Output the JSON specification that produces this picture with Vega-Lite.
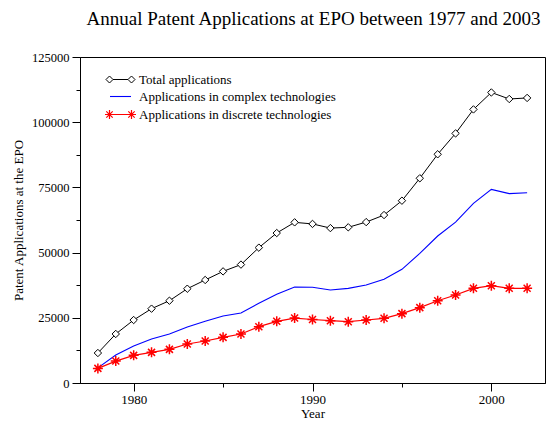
{
  "$schema": "https://vega.github.io/schema/vega-lite/v6.json",
  "autosize": "none",
  "width": 465,
  "height": 326,
  "padding": {"left": 80, "top": 57, "right": 2, "bottom": 41},
  "background": "white",
  "config": {
    "view": {"stroke": "black", "strokeWidth": 1},
    "font": "Liberation Serif"
  },
  "title": {
    "text": "Annual Patent Applications at EPO between 1977 and 2003",
    "font": "Liberation Serif",
    "fontSize": 19,
    "fontWeight": "normal",
    "color": "black",
    "anchor": "middle",
    "dx": 1,
    "offset": 22
  },
  "data": {
    "values": [
      {"year": 1978, "series": "Total applications", "value": 11500},
      {"year": 1979, "series": "Total applications", "value": 18800},
      {"year": 1980, "series": "Total applications", "value": 24150},
      {"year": 1981, "series": "Total applications", "value": 28500},
      {"year": 1982, "series": "Total applications", "value": 31550},
      {"year": 1983, "series": "Total applications", "value": 36150},
      {"year": 1984, "series": "Total applications", "value": 39500},
      {"year": 1985, "series": "Total applications", "value": 42800},
      {"year": 1986, "series": "Total applications", "value": 45400},
      {"year": 1987, "series": "Total applications", "value": 51900},
      {"year": 1988, "series": "Total applications", "value": 57500},
      {"year": 1989, "series": "Total applications", "value": 61600},
      {"year": 1990, "series": "Total applications", "value": 61000},
      {"year": 1991, "series": "Total applications", "value": 59400},
      {"year": 1992, "series": "Total applications", "value": 59700},
      {"year": 1993, "series": "Total applications", "value": 61700},
      {"year": 1994, "series": "Total applications", "value": 64400},
      {"year": 1995, "series": "Total applications", "value": 69900},
      {"year": 1996, "series": "Total applications", "value": 78500},
      {"year": 1997, "series": "Total applications", "value": 87700},
      {"year": 1998, "series": "Total applications", "value": 95700},
      {"year": 1999, "series": "Total applications", "value": 104900},
      {"year": 2000, "series": "Total applications", "value": 111400},
      {"year": 2001, "series": "Total applications", "value": 108900},
      {"year": 2002, "series": "Total applications", "value": 109300},
      {"year": 1978, "series": "Applications in complex technologies", "value": 5800},
      {"year": 1979, "series": "Applications in complex technologies", "value": 10700},
      {"year": 1980, "series": "Applications in complex technologies", "value": 14200},
      {"year": 1981, "series": "Applications in complex technologies", "value": 16900},
      {"year": 1982, "series": "Applications in complex technologies", "value": 18800},
      {"year": 1983, "series": "Applications in complex technologies", "value": 21500},
      {"year": 1984, "series": "Applications in complex technologies", "value": 23650},
      {"year": 1985, "series": "Applications in complex technologies", "value": 25700},
      {"year": 1986, "series": "Applications in complex technologies", "value": 26850},
      {"year": 1987, "series": "Applications in complex technologies", "value": 30550},
      {"year": 1988, "series": "Applications in complex technologies", "value": 34000},
      {"year": 1989, "series": "Applications in complex technologies", "value": 36800},
      {"year": 1990, "series": "Applications in complex technologies", "value": 36700},
      {"year": 1991, "series": "Applications in complex technologies", "value": 35650},
      {"year": 1992, "series": "Applications in complex technologies", "value": 36300},
      {"year": 1993, "series": "Applications in complex technologies", "value": 37600},
      {"year": 1994, "series": "Applications in complex technologies", "value": 39750},
      {"year": 1995, "series": "Applications in complex technologies", "value": 43600},
      {"year": 1996, "series": "Applications in complex technologies", "value": 49700},
      {"year": 1997, "series": "Applications in complex technologies", "value": 56350},
      {"year": 1998, "series": "Applications in complex technologies", "value": 61700},
      {"year": 1999, "series": "Applications in complex technologies", "value": 68900},
      {"year": 2000, "series": "Applications in complex technologies", "value": 74250},
      {"year": 2001, "series": "Applications in complex technologies", "value": 72600},
      {"year": 2002, "series": "Applications in complex technologies", "value": 72950},
      {"year": 1978, "series": "Applications in discrete technologies", "value": 5600},
      {"year": 1979, "series": "Applications in discrete technologies", "value": 8400},
      {"year": 1980, "series": "Applications in discrete technologies", "value": 10600},
      {"year": 1981, "series": "Applications in discrete technologies", "value": 11750},
      {"year": 1982, "series": "Applications in discrete technologies", "value": 12900},
      {"year": 1983, "series": "Applications in discrete technologies", "value": 14950},
      {"year": 1984, "series": "Applications in discrete technologies", "value": 16100},
      {"year": 1985, "series": "Applications in discrete technologies", "value": 17500},
      {"year": 1986, "series": "Applications in discrete technologies", "value": 18800},
      {"year": 1987, "series": "Applications in discrete technologies", "value": 21600},
      {"year": 1988, "series": "Applications in discrete technologies", "value": 23650},
      {"year": 1989, "series": "Applications in discrete technologies", "value": 24900},
      {"year": 1990, "series": "Applications in discrete technologies", "value": 24350},
      {"year": 1991, "series": "Applications in discrete technologies", "value": 23900},
      {"year": 1992, "series": "Applications in discrete technologies", "value": 23500},
      {"year": 1993, "series": "Applications in discrete technologies", "value": 24150},
      {"year": 1994, "series": "Applications in discrete technologies", "value": 24800},
      {"year": 1995, "series": "Applications in discrete technologies", "value": 26600},
      {"year": 1996, "series": "Applications in discrete technologies", "value": 28900},
      {"year": 1997, "series": "Applications in discrete technologies", "value": 31550},
      {"year": 1998, "series": "Applications in discrete technologies", "value": 33750},
      {"year": 1999, "series": "Applications in discrete technologies", "value": 36300},
      {"year": 2000, "series": "Applications in discrete technologies", "value": 37300},
      {"year": 2001, "series": "Applications in discrete technologies", "value": 36300},
      {"year": 2002, "series": "Applications in discrete technologies", "value": 36300}
    ]
  },
  "encoding": {
    "x": {
      "field": "year",
      "type": "quantitative",
      "scale": {"domain": [1977, 2003], "nice": false, "zero": false},
      "axis": {
        "title": "Year",
        "values": [1980, 1985, 1990, 1995, 2000],
        "format": "d",
        "labelExpr": "datum.value % 10 === 0 ? datum.label : ''",
        "tickSize": {"condition": {"test": "datum.value % 10 === 0", "value": 8}, "value": 4},
        "grid": false,
        "domainColor": "black",
        "tickColor": "black",
        "labelColor": "black",
        "titleColor": "black",
        "labelFont": "Liberation Serif",
        "labelFontSize": 13,
        "titleFont": "Liberation Serif",
        "titleFontSize": 13,
        "titleFontWeight": "normal",
        "labelPadding": 2,
        "titlePadding": 1,
        "labelOverlap": false
      }
    },
    "y": {
      "field": "value",
      "type": "quantitative",
      "scale": {"domain": [0, 125000], "nice": false},
      "axis": {
        "title": "Patent Applications at the EPO",
        "values": [0, 12500, 25000, 37500, 50000, 62500, 75000, 87500, 100000, 112500, 125000],
        "format": "d",
        "labelExpr": "datum.value % 25000 === 0 ? datum.label : ''",
        "tickSize": {"condition": {"test": "datum.value % 25000 === 0", "value": 8}, "value": 4},
        "grid": false,
        "domainColor": "black",
        "tickColor": "black",
        "labelColor": "black",
        "titleColor": "black",
        "labelFont": "Liberation Serif",
        "labelFontSize": 12.5,
        "titleFont": "Liberation Serif",
        "titleFontSize": 13,
        "titleFontWeight": "normal",
        "labelPadding": 3,
        "titlePadding": 6,
        "labelOverlap": false
      }
    }
  },
  "layer": [
    {
      "mark": {"type": "line"},
      "encoding": {
        "color": {
          "field": "series",
          "type": "nominal",
          "scale": {
            "domain": ["Total applications", "Applications in complex technologies", "Applications in discrete technologies"],
            "range": ["#000000", "#0000ff", "#ff0000"]
          },
          "legend": {
            "title": null,
            "orient": "none",
            "legendX": 34,
            "legendY": 16,
            "symbolSize": 100,
            "labelOffset": 12,
            "labelFont": "Liberation Serif",
            "labelFontSize": 13,
            "labelColor": "black",
            "rowPadding": 3,
            "labelLimit": 400,
            "encode": {
              "symbols": {
                "update": {
                  "shape": {"signal": "datum.value === 'Total applications' ? 'M-2.2,-0.7L-1.5,0L-2.2,0.7L-2.9,0Z M2.2,-0.7L2.9,0L2.2,0.7L1.5,0Z M-1.5,0L1.5,0' : (datum.value === 'Applications in complex technologies' ? 'M-2.1,0L2.1,0' : 'M-2.2,0L2.2,0 M-3.1,0L-1.3,0 M-2.2,-0.9L-2.2,0.9 M-2.84,-0.64L-1.56,0.64 M-2.84,0.64L-1.56,-0.64 M1.3,0L3.1,0 M2.2,-0.9L2.2,0.9 M1.56,-0.64L2.84,0.64 M1.56,0.64L2.84,-0.64')"},
                  "strokeWidth": {"signal": "datum.value === 'Applications in discrete technologies' ? 2 : 1"},
                  "fill": {"value": "transparent"}
                }
              }
            }
          }
        },
        "strokeWidth": {
          "field": "series",
          "type": "nominal",
          "scale": {
            "domain": ["Total applications", "Applications in complex technologies", "Applications in discrete technologies"],
            "range": [1, 1.2, 2.5]
          },
          "legend": null
        }
      }
    },
    {
      "transform": [{"filter": "datum.series === 'Total applications'"}],
      "mark": {"type": "point", "shape": "diamond", "size": 55, "filled": true, "fill": "white", "stroke": "black", "strokeWidth": 1, "opacity": 1}
    },
    {
      "transform": [{"filter": "datum.series === 'Applications in discrete technologies'"}],
      "mark": {"type": "point", "shape": "M-1,0L1,0M0,-1L0,1M-0.7,-0.7L0.7,0.7M-0.7,0.7L0.7,-0.7", "size": 100, "filled": false, "stroke": "#ff0000", "strokeWidth": 1.5, "opacity": 1}
    }
  ]
}
